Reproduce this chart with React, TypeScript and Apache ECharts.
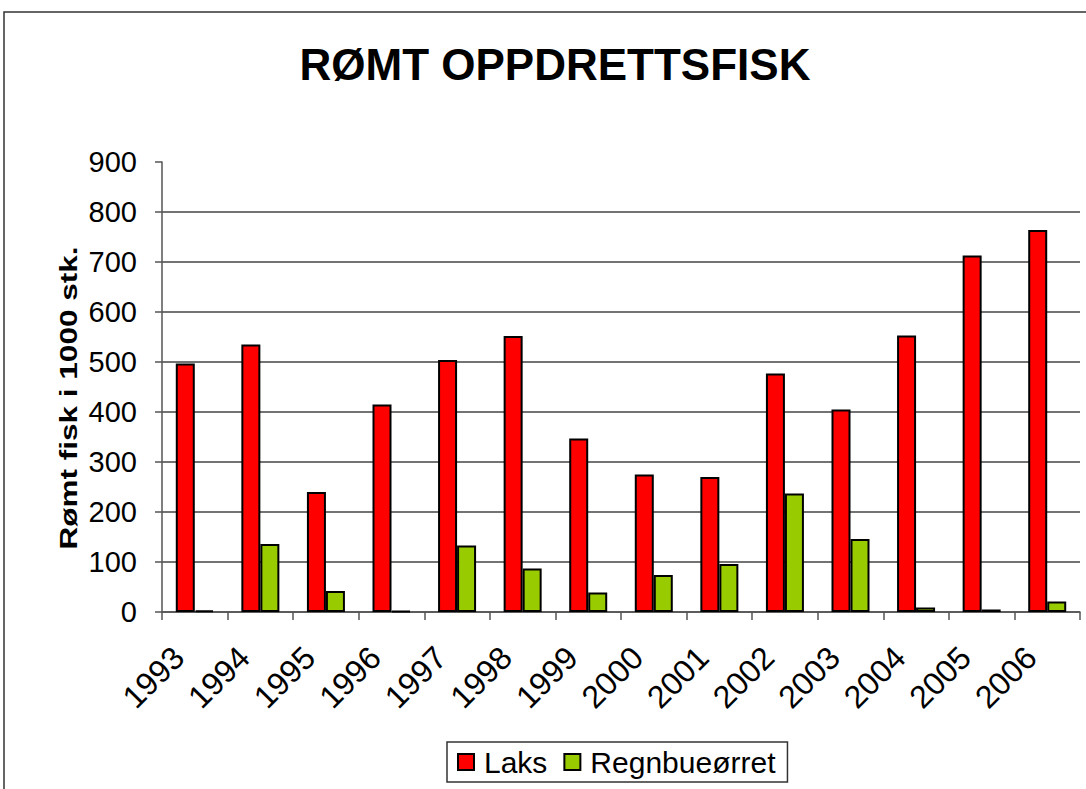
import React, { useEffect, useRef } from "react";
import * as echarts from "echarts";

const years = ["1993","1994","1995","1996","1997","1998","1999","2000","2001","2002","2003","2004","2005","2006"];
const laks = [497, 535, 240, 415, 504, 552, 347, 275, 270, 477, 405, 553, 713, 764];
const regnbue = [3, 136, 42, 2, 133, 87, 39, 74, 96, 237, 146, 9, 5, 21];
const titleText = "RØMT OPPDRETTSFISK";
const yName = "Rømt fisk i 1000 stk.";

const FONT = "'Liberation Sans', Arial, sans-serif";

export default function App() {
  const ref = useRef<HTMLDivElement>(null);
  useEffect(() => {
    const chart = echarts.init(ref.current!, null, { renderer: "svg" });
    chart.setOption({
      animation: false,
      backgroundColor: "#fff",
      textStyle: { fontFamily: FONT },
      graphic: [
        {
          type: "rect",
          shape: { x: 4, y: 12, width: 1120, height: 820 },
          style: { fill: "none", stroke: "#333", lineWidth: 1.5 },
          silent: true,
        },
        {
          type: "text",
          x: 555,
          y: 64,
          style: {
            text: titleText,
            font: `bold 44px ${FONT}`,
            fill: "#000",
            align: "center",
            verticalAlign: "middle",
          },
        },
        {
          type: "text",
          x: 69,
          y: 398,
          rotation: Math.PI / 2,
          scaleX: 1.37,
          style: {
            text: yName,
            font: `bold 23px ${FONT}`,
            fill: "#000",
            align: "center",
            verticalAlign: "middle",
          },
        },
      ],
      grid: { left: 162, right: 6, top: 162, bottom: 177 },
      legend: {
        top: 742,
        left: 447,
        itemWidth: 16,
        itemHeight: 16,
        itemGap: 16,
        icon: "rect",
        padding: [5, 12, 5, 10],
        borderColor: "#333",
        borderWidth: 1.5,
        textStyle: { fontSize: 30, color: "#000", fontFamily: FONT, padding: [0, 0, 0, 5] },
        data: ["Laks", "Regnbueørret"],
      },
      xAxis: {
        type: "category",
        data: years,
        axisLine: { show: true, lineStyle: { color: "#555", width: 1.5 } },
        axisTick: { show: true, length: 8, lineStyle: { color: "#555", width: 1.5 } },
        axisLabel: {
          rotate: 45,
          fontSize: 32,
          color: "#000",
          margin: 24,
          padding: [0, 23, 0, 0],
          fontFamily: FONT,
        },
      },
      yAxis: {
        type: "value",
        min: 0,
        max: 900,
        interval: 100,
        axisLine: { show: true, lineStyle: { color: "#555", width: 1.5 } },
        axisTick: { show: true, length: 7, lineStyle: { color: "#555", width: 1.5 } },
        axisLabel: { fontSize: 29, color: "#000", margin: 25, fontFamily: FONT },
        splitLine: {
          show: true,
          showMaxLine: false,
          lineStyle: { color: "#444", width: 1.5 },
        },
      },
      series: [
        {
          name: "Laks",
          type: "bar",
          data: laks,
          barWidth: 19,
          barGap: "0%",
          itemStyle: { color: "#FF0000", borderColor: "#000", borderWidth: 2 },
        },
        {
          name: "Regnbueørret",
          type: "bar",
          data: regnbue,
          barWidth: 19,
          barGap: "0%",
          itemStyle: { color: "#99CC00", borderColor: "#000", borderWidth: 2 },
        },
      ],
    });
    return () => chart.dispose();
  }, []);
  return (
    <div
      ref={ref}
      style={{ position: "fixed", left: 0, top: 0, width: 1086, height: 789 }}
    />
  );
}
